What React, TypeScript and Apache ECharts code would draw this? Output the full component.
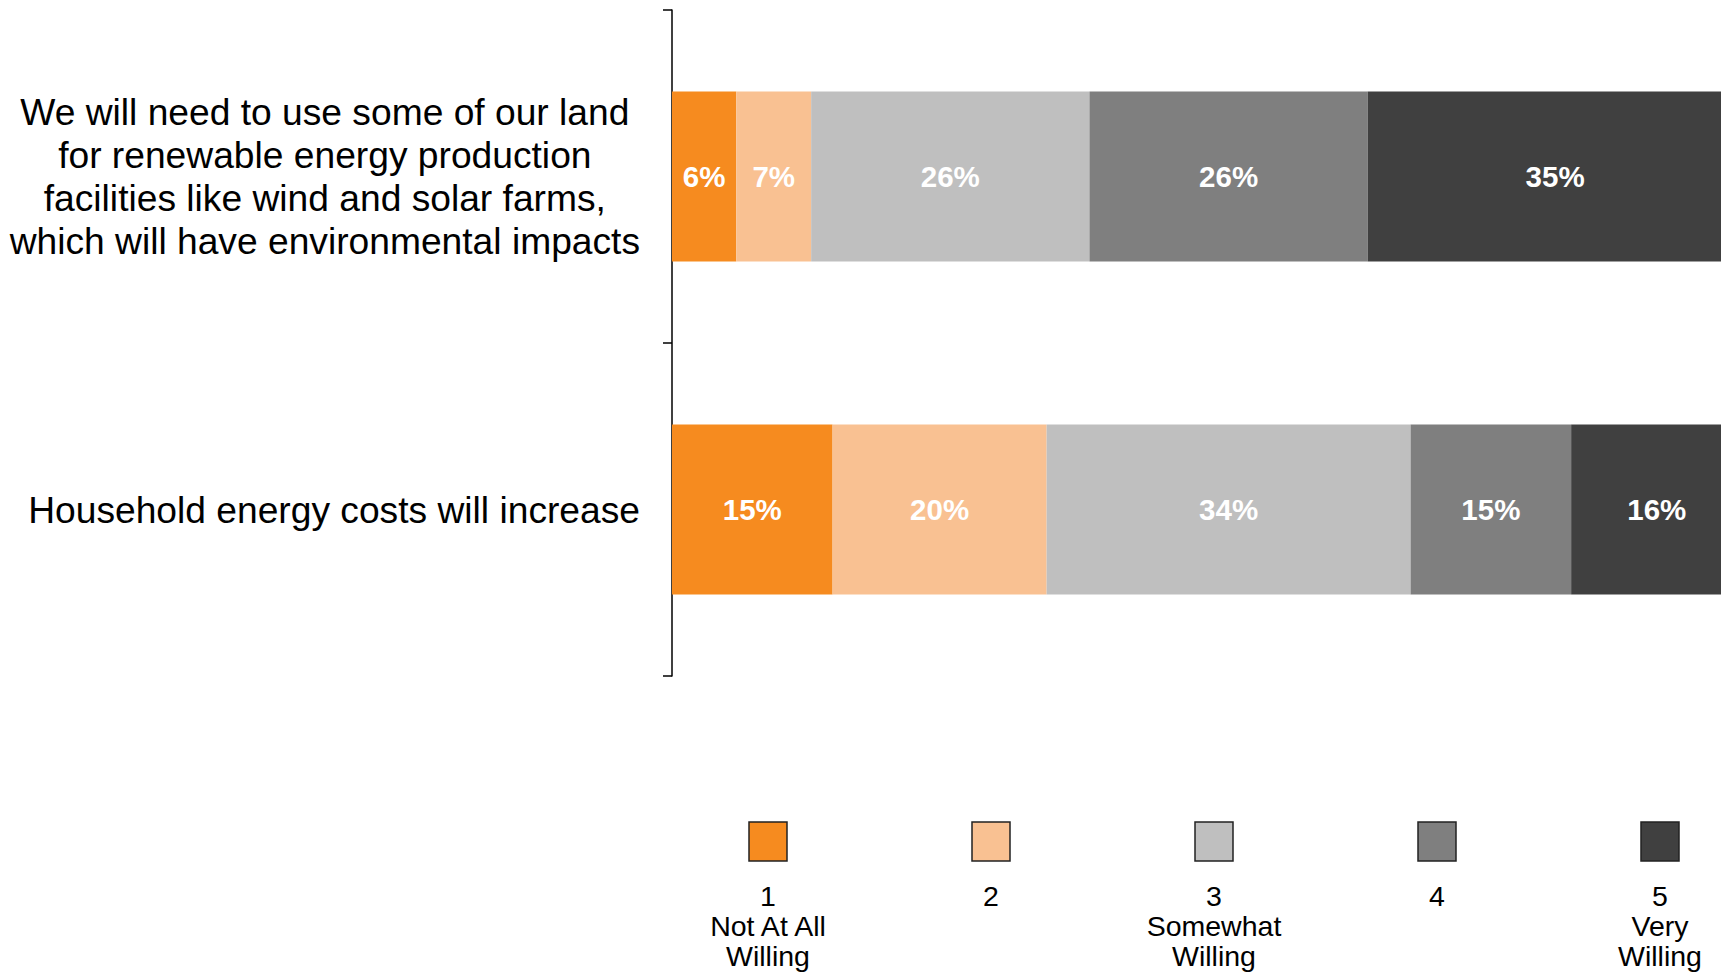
import React, { useEffect, useRef } from "react";
import * as echarts from "echarts";

const categories = [
  "We will need to use some of our land\nfor renewable energy production\nfacilities like wind and solar farms,\nwhich will have environmental impacts",
  "Household energy costs will increase",
];
const seriesNames = ["1", "2", "3", "4", "5"];
const legendLabels = [
  "1\nNot At All\nWilling",
  "2",
  "3\nSomewhat\nWilling",
  "4",
  "5\nVery\nWilling",
];
const colors = ["#F68B1F", "#F9C192", "#BFBFBF", "#7F7F7F", "#404040"];
const values1 = [6, 15];
const values2 = [7, 20];
const values3 = [26, 34];
const values4 = [26, 15];
const values5 = [35, 16];
const seriesValues = [values1, values2, values3, values4, values5];

const FONT = "'Liberation Sans', Arial, sans-serif";

export default function App() {
  const ref = useRef<HTMLDivElement>(null);
  useEffect(() => {
    if (!ref.current) return;
    const chart = echarts.init(ref.current, null, { renderer: "svg" });
    const legendX0 = 768;
    const legendStep = 223;
    const graphics: any[] = [];
    seriesNames.forEach((_, i) => {
      const cx = legendX0 + i * legendStep;
      graphics.push({
        type: "rect",
        shape: { x: cx - 19, y: 822, width: 38, height: 39 },
        style: { fill: colors[i], stroke: "#222222", lineWidth: 1.5 },
      });
      graphics.push({
        type: "text",
        style: {
          text: legendLabels[i],
          x: cx,
          y: 881,
          fill: "#000",
          fontSize: 28.5,
          fontFamily: FONT,
          lineHeight: 30,
          align: "center",
          verticalAlign: "top",
        },
      });
    });
    chart.setOption({
      animation: false,
      backgroundColor: "#ffffff",
      grid: { left: 672, top: 10, right: 0, height: 666, containLabel: false },
      xAxis: {
        type: "value",
        min: 0,
        max: 98,
        show: false,
      },
      yAxis: {
        type: "category",
        inverse: true,
        data: categories,
        axisLine: { show: true, lineStyle: { color: "#000", width: 1.5 } },
        axisTick: { show: true, length: 9, lineStyle: { color: "#000", width: 1.5 } },
        axisLabel: {
          margin: 32,
          align: "right",
          formatter: (v: string) =>
            v
              .split("\n")
              .map((l) => `{a|${l}}`)
              .join("\n"),
          rich: {
            a: {
              align: "center",
              fontSize: 37.2,
              lineHeight: 43,
              fontFamily: FONT,
              color: "#000",
            },
          },
        },
        splitLine: { show: false },
      },
      graphic: graphics,
      series: seriesNames.map((name, i) => ({
        name,
        type: "bar",
        stack: "total",
        barWidth: "51%",
        clip: false,
        data: seriesValues[i],
        itemStyle: { color: colors[i] },
        label: {
          show: true,
          position: "inside",
          formatter: "{c}%",
          color: "#ffffff",
          fontWeight: "bold",
          fontSize: 29.5,
          fontFamily: FONT,
        },
      })),
    });
    return () => chart.dispose();
  }, []);
  return (
    <div
      ref={ref}
      style={{ position: "fixed", left: 0, top: 0, width: 1721, height: 972 }}
    />
  );
}
